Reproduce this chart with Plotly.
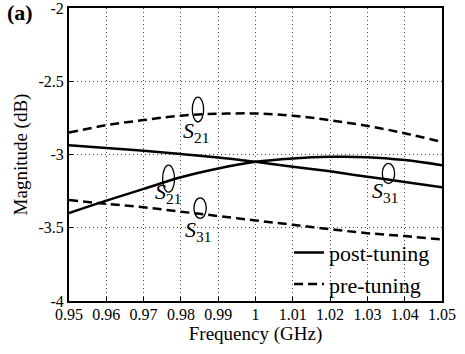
import plotly.graph_objects as go

freq = [0.95, 0.96, 0.97, 0.98, 0.99, 1.00, 1.01, 1.02, 1.03, 1.04, 1.05]
post_s21 = [-3.40, -3.315, -3.235, -3.155, -3.095, -3.05, -3.027, -3.016, -3.018, -3.038, -3.073]
post_s31 = [-2.937, -2.955, -2.975, -2.997, -3.02, -3.05, -3.083, -3.115, -3.152, -3.187, -3.224]
pre_s21 = [-2.85, -2.80, -2.765, -2.735, -2.722, -2.72, -2.735, -2.766, -2.805, -2.855, -2.915]
pre_s31 = [-3.311, -3.337, -3.36, -3.39, -3.42, -3.45, -3.48, -3.51, -3.537, -3.557, -3.58]

x_ticks = [0.95, 0.96, 0.97, 0.98, 0.99, 1.00, 1.01, 1.02, 1.03, 1.04, 1.05]
x_labels = ["0.95", "0.96", "0.97", "0.98", "0.99", "1", "1.01", "1.02", "1.03", "1.04", "1.05"]
y_ticks = [-4, -3.5, -3, -2.5, -2]
y_labels = ["-4", "-3.5", "-3", "-2.5", "-2"]

FONT = "Liberation Serif, Times New Roman, serif"
solid = dict(color="black", width=2.5, shape="spline")
dashed = dict(color="black", width=2.5, dash="9px,5px", shape="spline")

fig = go.Figure()
fig.add_trace(go.Scatter(x=freq, y=post_s21, mode="lines", line=solid, name="post-tuning"))
fig.add_trace(go.Scatter(x=freq, y=pre_s21, mode="lines", line=dashed, name="pre-tuning"))
fig.add_trace(go.Scatter(x=freq, y=post_s31, mode="lines", line=solid, showlegend=False))
fig.add_trace(go.Scatter(x=freq, y=pre_s31, mode="lines", line=dashed, showlegend=False))

# loop marks (ellipses) around the curves
loops = [
    (0.98306, 0.98609, -2.778, -2.608),
    (0.9751, 0.9783, -3.257, -3.073),
    (0.9835, 0.9868, -3.436, -3.296),
    (1.0340, 1.0373, -3.198, -3.061),
]
for x0, x1, y0, y1 in loops:
    fig.add_shape(type="circle", xref="x", yref="y", x0=x0, x1=x1, y0=y0, y1=y1,
                  line=dict(color="black", width=1.3))

labels = [
    (0.9841, -2.848, "<i>S</i><sub>21</sub>"),
    (0.9765, -3.265, "<i>S</i><sub>21</sub>"),
    (0.9846, -3.522, "<i>S</i><sub>31</sub>"),
    (1.0346, -3.257, "<i>S</i><sub>31</sub>"),
]
for x, y, t in labels:
    fig.add_annotation(x=x, y=y, xref="x", yref="y", text=t, showarrow=False,
                       font=dict(family=FONT, size=22, color="black"))

fig.add_annotation(x=-0.131, y=0.983, xref="paper", yref="paper", text="<b>(a)</b>",
                   showarrow=False, xanchor="center", yanchor="middle",
                   font=dict(family=FONT, size=22, color="black"))

axis_common = dict(showline=True, linecolor="black", linewidth=2, mirror=True,
                   showgrid=True, gridcolor="#444444", gridwidth=1, griddash="1px,3px",
                   ticks="inside", ticklen=4, tickcolor="black", zeroline=False,
                   automargin=False, ticklabeloverflow="allow",
                   tickfont=dict(family=FONT, size=16, color="black"))

fig.update_layout(
    width=465, height=354,
    margin=dict(l=69, r=23, t=8, b=53),
    paper_bgcolor="white", plot_bgcolor="white",
    font=dict(family=FONT, color="black"),
    xaxis=dict(range=[0.95, 1.05], tickvals=x_ticks, ticktext=x_labels, ticklabelstandoff=-2,
               title=dict(text="Frequency (GHz)", font=dict(family=FONT, size=19), standoff=2),
               **axis_common),
    yaxis=dict(range=[-4, -2], tickvals=y_ticks, ticktext=y_labels,
               title=dict(text="Magnitude (dB)", font=dict(family=FONT, size=19), standoff=6),
               **axis_common),
    legend=dict(x=0.59, y=-0.016, xanchor="left", yanchor="bottom", bgcolor="rgba(0,0,0,0)",
                font=dict(family=FONT, size=22, color="black"), tracegroupgap=0,
                itemwidth=30),
    showlegend=True,
)

fig.write_html("out.html", config={"displayModeBar": False},
               post_script="document.body.style.margin='0';")
